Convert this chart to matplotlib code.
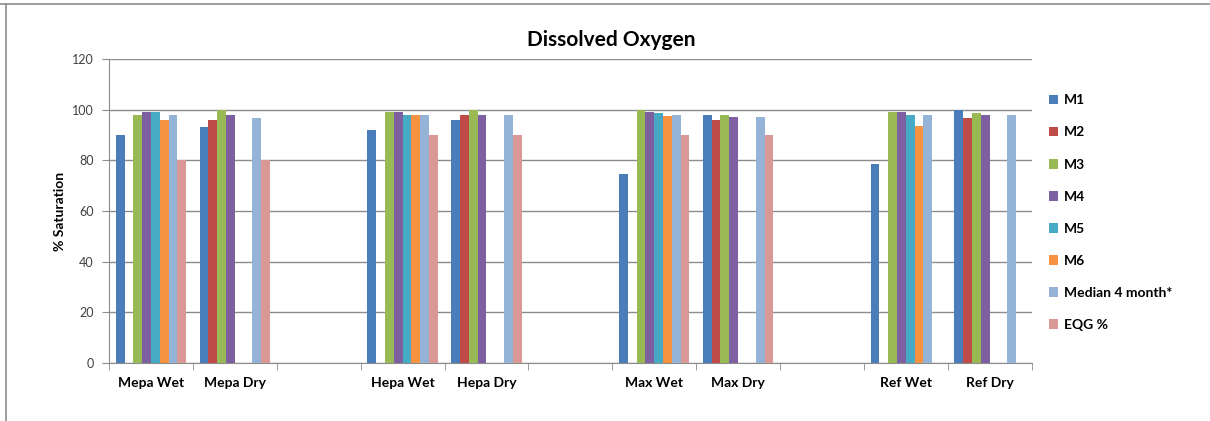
import numpy as np
import matplotlib.pyplot as plt
from matplotlib.lines import Line2D

nan = np.nan
categories = ['Mepa Wet', 'Mepa Dry', '', 'Hepa Wet', 'Hepa Dry', '',
              'Max Wet', 'Max Dry', '', 'Ref Wet', 'Ref Dry']
series_names = ['M1', 'M2', 'M3', 'M4', 'M5', 'M6', 'Median 4 month*', 'EQG %']

m1 = [90, 93, nan, 92, 96, nan, 74.5, 98, nan, 78.5, 100]
m2 = [nan, 96, nan, nan, 98, nan, nan, 96, nan, nan, 96.5]
m3 = [98, 100, nan, 99, 100, nan, 99.7, 98, nan, 99, 98.5]
m4 = [99, 98, nan, 99, 98, nan, 99, 97, nan, 99, 98]
m5 = [99, nan, nan, 98, nan, nan, 98.5, nan, nan, 98, nan]
m6 = [96, nan, nan, 98, nan, nan, 97.5, nan, nan, 93.5, nan]
median4 = [98, 96.5, nan, 98, 98, nan, 98, 97, nan, 98, 98]
eqg = [80, 80, nan, 90, 90, nan, 90, 90, nan, nan, nan]

colors = ['#4A7EBB', '#BE4B48', '#98B954', '#7D60A0',
          '#46AAC5', '#F69240', '#95B3D7', '#D99795']

plt.rcParams['font.family'] = ['Lato', 'DejaVu Sans']

fig = plt.figure(figsize=(12.1, 4.21), dpi=100)
ax = fig.add_axes([0.0901, 0.1378, 0.7625, 0.7222])

all_series = [m1, m2, m3, m4, m5, m6, median4, eqg]
n = len(all_series)
x = np.arange(len(categories))
w = 0.84 / n
for i, (vals, name) in enumerate(zip(all_series, series_names)):
    ax.bar(x - 0.42 + w * (i + 0.5), vals, width=w, color=colors[i],
           label=name, zorder=3)

ax.set_xlim(-0.5, len(categories) - 0.5)
ax.set_ylim(0, 120)
ax.set_yticks(np.arange(0, 121, 20))
ax.yaxis.grid(True, color='#8c8c8c', linewidth=1, zorder=0)
ax.set_xticks(x)
ax.set_xticklabels(categories, fontsize=10, fontweight='bold')
ax.set_xticks(np.arange(-0.5, len(categories)), minor=True)
ax.tick_params(axis='x', which='major', length=0, pad=10)
ax.tick_params(axis='x', which='minor', length=5, color='#8c8c8c')
ax.tick_params(axis='y', length=5, color='#8c8c8c', labelsize=9, pad=6,
               labelcolor='#404040')
for s in ['top', 'right']:
    ax.spines[s].set_visible(False)
for s in ['left', 'bottom']:
    ax.spines[s].set_color('#8c8c8c')
ax.set_ylabel('% Saturation', fontsize=10, fontweight='bold', labelpad=4)

fig.text(0.505, 0.905, 'Dissolved Oxygen', ha='center', va='center',
         fontsize=15, fontweight='bold')

ax.legend(loc='upper left', bbox_to_anchor=(1.005, 0.925), frameon=False,
          prop={'weight': 'bold', 'size': 10}, handlelength=0.7,
          handleheight=0.7, handletextpad=0.4, labelspacing=1.45)

# chart area border: top and left edges only
fig.lines.append(Line2D([0, 1], [0.99, 0.99], transform=fig.transFigure,
                        color='#8c8c8c', linewidth=1.2))
fig.lines.append(Line2D([0.005, 0.005], [0, 0.99], transform=fig.transFigure,
                        color='#8c8c8c', linewidth=1.2))

fig.savefig('out.png', dpi=100)
